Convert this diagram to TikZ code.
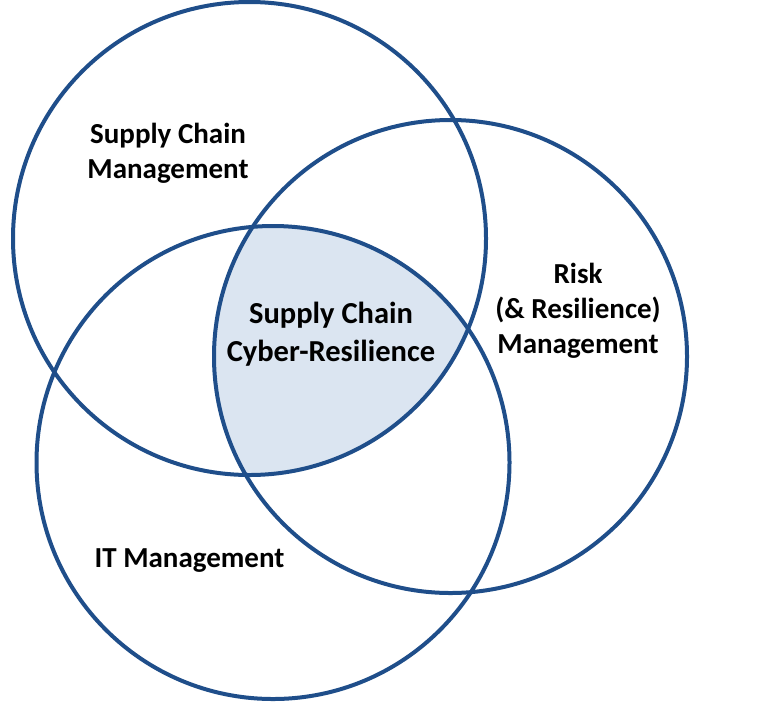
\documentclass[tikz,border=0pt]{standalone}
\usepackage{fontspec}
\setmainfont{Carlito}
\definecolor{ringblue}{RGB}{31,78,138}
\definecolor{corefill}{RGB}{219,229,241}
\begin{document}
\begin{tikzpicture}[x=1pt,y=-1pt,
  ring/.style={draw=ringblue,line width=4pt},
  lbl/.style={align=center,inner sep=0pt,font=\bfseries\fontsize{29}{35}\selectfont},
  corelbl/.style={align=center,inner sep=0pt,font=\bfseries\fontsize{30.5}{38.5}\selectfont}]
\useasboundingbox (0,0) rectangle (770,702);
\coordinate (cS) at (249.5,238.5);
\coordinate (cR) at (450.5,356.5);
\coordinate (cI) at (273,462.5);
\begin{scope}
  \clip (cR) circle (236.5);
  \clip (cI) circle (236.5);
  \fill[corefill] (cS) circle (236.5);
\end{scope}
\draw[ring] (cS) circle (236.5);
\draw[ring] (cR) circle (236.5);
\draw[ring] (cI) circle (236.5);
\node[lbl] (scm) at (168,153.5) {Supply Chain\\Management};
\node[lbl] (risk) at (578,311) {Risk\\(\& Resilience)\\Management};
\node[lbl] (itm) at (189.5,560.5) {IT Management};
\node[corelbl] (core) at (331,334) {Supply Chain\\Cyber-Resilience};
\end{tikzpicture}
\end{document}
